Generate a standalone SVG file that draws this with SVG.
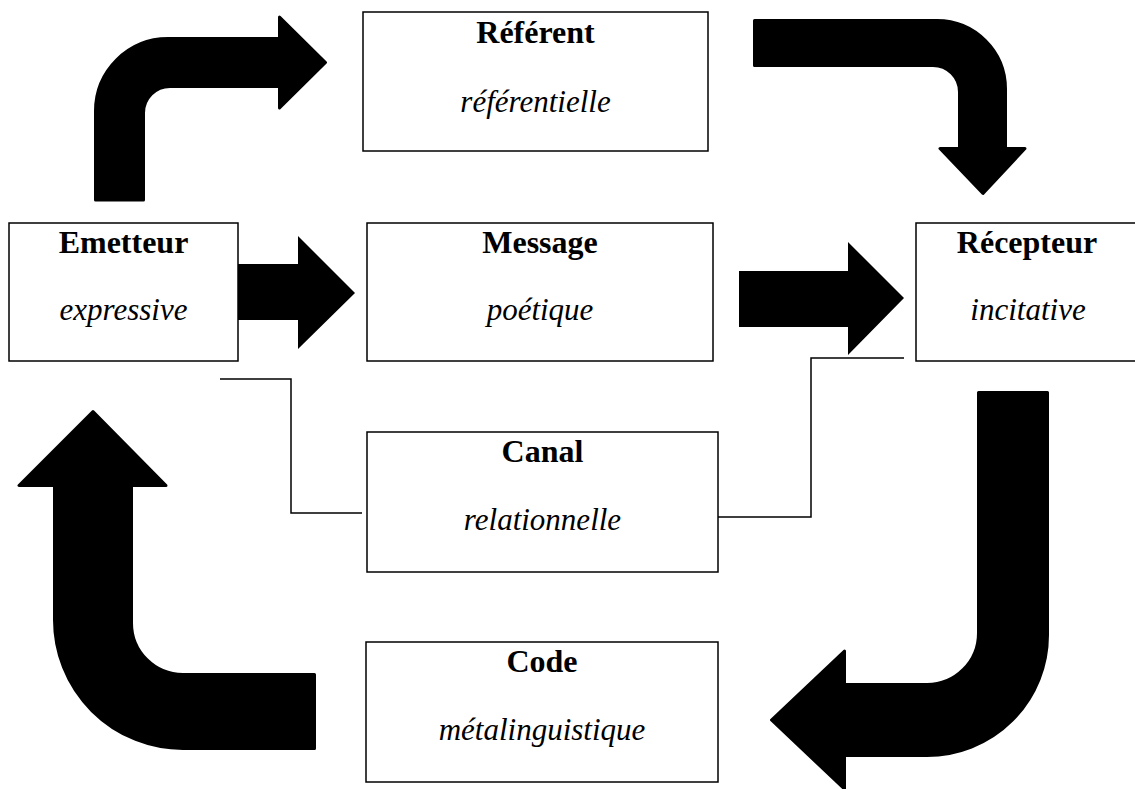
<svg xmlns="http://www.w3.org/2000/svg" width="1135" height="789" viewBox="0 0 1135 789">
<style>
.box{fill:#fff;stroke:#000;stroke-width:1.5}
.t{font-family:"Liberation Serif","Times New Roman",serif;font-size:32px;font-weight:bold;text-anchor:middle;fill:#000}
.i{font-family:"Liberation Serif","Times New Roman",serif;font-size:31px;font-style:italic;text-anchor:middle;fill:#000}
.big{fill:#000;stroke:#000;stroke-width:3;stroke-linejoin:round}
.flat{fill:#000}
.ln{fill:none;stroke:#000;stroke-width:1.5}
</style>
<rect width="1135" height="789" fill="#fff"/>
<g id="connectors">
<path class="big" d="M95.5,200 L95.5,111 A72.5,72.5 0 0 1 168,38.5 L279.5,38.5 L279.5,17 L325.5,62.5 L279.5,108 L279.5,86.5 L170,86.5 A26.5,26.5 0 0 0 143.5,113 L143.5,200 Z"/>
<path class="big" d="M754.5,20.5 L937,20.5 A68.5,68.5 0 0 1 1005.5,89 L1005.5,148.5 L1025,148.5 L983,193.5 L940,148.5 L959.5,148.5 L959.5,92 A26.5,26.5 0 0 0 933,65.5 L754.5,65.5 Z"/>
<path class="big" d="M978.5,392.5 L1047.5,392.5 L1047.5,635 A120.5,120.5 0 0 1 927,755.5 L844.5,755.5 L844.5,789 L771.5,720 L844.5,651 L844.5,684.5 L927,684.5 A51.5,51.5 0 0 0 978.5,633 Z"/>
<path class="big" d="M314.5,674.5 L183,674.5 A51.5,51.5 0 0 1 131.5,623 L131.5,485.5 L166,485.5 L93,411.5 L19,485.5 L54.5,485.5 L54.5,620 A128.5,128.5 0 0 0 183,748.5 L314.5,748.5 Z"/>
<path class="flat" d="M238,264 L298,264 L298,236 L355,293 L298,349 L298,320 L238,320 Z"/>
<path class="flat" d="M739,271 L848,271 L848,242 L904,298 L848,355 L848,327 L739,327 Z"/>
<path class="ln" d="M220,379 L291,379 L291,513 L362,513"/>
<path class="ln" d="M718,517 L811,517 L811,358 L904,358"/>
</g>
<g id="referent">
<rect class="box" x="363" y="12" width="345" height="139"/>
<text class="t" x="535.5" y="43">Référent</text>
<text class="i" x="535.5" y="112">référentielle</text>
</g>
<g id="emetteur">
<rect class="box" x="9" y="223" width="229" height="138"/>
<text class="t" x="123.5" y="253">Emetteur</text>
<text class="i" x="123.5" y="320">expressive</text>
</g>
<g id="message">
<rect class="box" x="367" y="223" width="346" height="138"/>
<text class="t" x="540" y="253">Message</text>
<text class="i" x="540" y="320">poétique</text>
</g>
<g id="recepteur">
<rect class="box" x="916" y="223" width="222" height="138"/>
<text class="t" x="1027" y="253">Récepteur</text>
<text class="i" x="1028" y="320">incitative</text>
</g>
<g id="canal">
<rect class="box" x="367" y="432" width="351" height="140"/>
<text class="t" x="542.5" y="462">Canal</text>
<text class="i" x="542.5" y="530">relationnelle</text>
</g>
<g id="code">
<rect class="box" x="366" y="642" width="352" height="140"/>
<text class="t" x="542" y="672">Code</text>
<text class="i" x="542" y="740">métalinguistique</text>
</g>
</svg>
